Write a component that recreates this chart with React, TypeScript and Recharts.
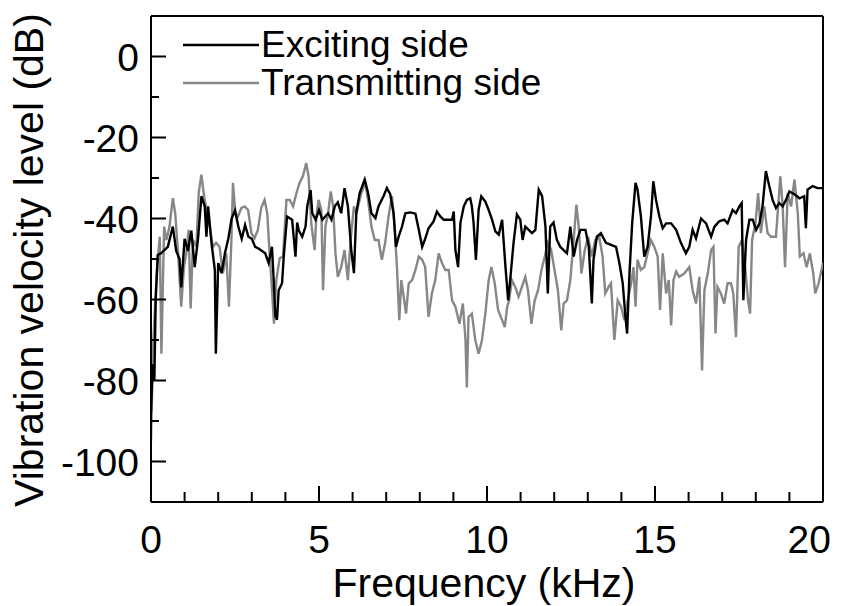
import { LineChart, Line, XAxis, YAxis, ReferenceLine } from "recharts"

// frequency (kHz), level (dB)
const excitingFreq = [
  0, 0.05, 0.1, 0.14, 0.2, 0.3, 0.5, 0.65, 0.75, 0.85, 0.9, 1.0, 1.1, 1.2, 1.3, 1.4, 1.5, 1.6, 1.65, 1.7,
  1.8, 1.9, 1.93, 2.0, 2.1, 2.2, 2.3, 2.4, 2.5, 2.6, 2.7, 2.8, 2.9, 3.0, 3.1, 3.2, 3.4, 3.5, 3.6, 3.65,
  3.7, 3.75, 3.8, 3.9, 3.95, 4.05, 4.2, 4.3, 4.35, 4.4, 4.5, 4.6, 4.65, 4.75, 4.8, 4.9, 5.0, 5.1, 5.27, 5.37,
  5.47, 5.56, 5.66, 5.76, 5.86, 5.96, 6.04, 6.11, 6.21, 6.36, 6.46, 6.56, 6.68, 6.77, 6.92, 7.02, 7.12, 7.22, 7.29, 7.37,
  7.47, 7.57, 7.72, 7.87, 7.97, 8.07, 8.16, 8.26, 8.41, 8.51, 8.61, 8.71, 8.86, 8.96, 9.01, 9.06, 9.14, 9.21, 9.31, 9.4,
  9.5, 9.55, 9.6, 9.67, 9.75, 9.83, 9.95, 10.05, 10.15, 10.25, 10.35, 10.45, 10.55, 10.63, 10.69, 10.79, 10.89, 10.99, 11.06, 11.14,
  11.24, 11.34, 11.44, 11.54, 11.64, 11.74, 11.81, 11.88, 11.98, 12.08, 12.18, 12.28, 12.38, 12.48, 12.58, 12.68, 12.78, 12.93, 13.03, 13.12,
  13.17, 13.27, 13.39, 13.54, 13.69, 13.84, 13.94, 14.04, 14.12, 14.17, 14.24, 14.32, 14.42, 14.48, 14.58, 14.68, 14.78, 14.88, 14.95, 15.03,
  15.13, 15.23, 15.33, 15.48, 15.63, 15.77, 15.92, 16.02, 16.12, 16.22, 16.37, 16.52, 16.67, 16.77, 16.91, 17.06, 17.16, 17.31, 17.41, 17.51,
  17.58, 17.63, 17.71, 17.81, 17.91, 18.01, 18.11, 18.2, 18.3, 18.4, 18.5, 18.6, 18.7, 18.8, 18.9, 19.0, 19.15, 19.3, 19.44, 19.49,
  19.54, 19.69, 19.84, 20,
]
const excitingLevel = [
  -88, -76, -80, -60, -49, -48.6, -47, -42, -48, -50, -57, -45, -48, -43, -52, -45, -34.5, -37, -44.5, -37,
  -46, -52.7, -73.4, -51, -53.5, -48.6, -45, -40, -38, -42, -45, -41.6, -44.5, -45, -47, -47.4, -48.6, -51, -47, -55,
  -64, -65, -57.7, -56, -49.4, -39.5, -40.3, -49.4, -41, -43, -44.5, -42, -37, -33, -38.7, -40.3, -37.9, -40.3, -38.7, -40.3,
  -37, -36, -38.7, -32.5, -37, -47.8, -53.5, -38.7, -33.7, -30.4, -33.7, -38.7, -39.9, -37, -34.5, -32.5, -34, -38.7, -47, -44.5,
  -42, -38.7, -38.5, -38.8, -42.8, -47, -45, -42.4, -40.7, -38.3, -39.5, -40.3, -40.3, -40.3, -38.3, -47.8, -52, -41, -37, -35.4,
  -35, -37, -41, -50.2, -37.9, -34.5, -35.8, -37.9, -40.3, -43.2, -44, -40.3, -52, -60.2, -55.2, -46, -39, -40.3, -45.3, -42,
  -42.8, -43.6, -42.8, -32.9, -34.5, -42, -58.5, -42, -41, -45.3, -47, -47.8, -48.6, -42, -49.4, -45.3, -42.8, -42.8, -47, -61,
  -50.2, -44.5, -43.6, -46, -46.5, -47, -51, -56, -64.3, -68.4, -53.6, -41.2, -31.2, -32.9, -39.5, -49.4, -47, -39.5, -30.8, -35.4,
  -39.5, -42.4, -41.2, -41.2, -42.8, -46, -48.6, -47, -42.8, -44.9, -40, -41.2, -44.5, -42, -40.7, -40.3, -41.2, -37.9, -38.7, -37,
  -36.2, -60.2, -45.3, -40.3, -40.3, -42.8, -41.2, -37, -28.3, -32, -35.4, -37.4, -36.2, -37, -35.4, -33.3, -34, -35, -34.5, -42.4,
  -32.9, -32, -32.5, -32.5,
]

const transmittingFreq = [
  0, 0.06, 0.16, 0.21, 0.26, 0.31, 0.39, 0.46, 0.55, 0.65, 0.72, 0.8, 0.9, 0.98, 1.05, 1.12, 1.18, 1.25, 1.35, 1.42,
  1.5, 1.58, 1.65, 1.75, 1.84, 1.94, 2.04, 2.14, 2.24, 2.32, 2.39, 2.44, 2.51, 2.59, 2.69, 2.79, 2.89, 2.99, 3.08, 3.18,
  3.28, 3.38, 3.46, 3.53, 3.6, 3.66, 3.73, 3.83, 3.93, 4.03, 4.13, 4.23, 4.33, 4.42, 4.52, 4.62, 4.69, 4.77, 4.87, 4.92,
  4.99, 5.07, 5.12, 5.19, 5.27, 5.35, 5.42, 5.49, 5.56, 5.66, 5.76, 5.86, 5.94, 6.04, 6.11, 6.26, 6.38, 6.46, 6.56, 6.66,
  6.77, 6.87, 6.97, 7.07, 7.17, 7.25, 7.32, 7.39, 7.45, 7.52, 7.59, 7.67, 7.77, 7.87, 7.97, 8.07, 8.16, 8.26, 8.36, 8.46,
  8.56, 8.66, 8.76, 8.86, 8.96, 9.06, 9.18, 9.28, 9.36, 9.4, 9.45, 9.55, 9.65, 9.75, 9.85, 9.95, 10.05, 10.13, 10.23, 10.33,
  10.45, 10.53, 10.6, 10.66, 10.74, 10.84, 10.94, 11.04, 11.14, 11.22, 11.32, 11.42, 11.52, 11.62, 11.72, 11.81, 11.91, 12.01, 12.11, 12.21,
  12.28, 12.38, 12.48, 12.58, 12.66, 12.73, 12.81, 12.91, 13.01, 13.12, 13.22, 13.34, 13.44, 13.52, 13.62, 13.69, 13.79, 13.89, 13.99, 14.09,
  14.19, 14.29, 14.36, 14.42, 14.48, 14.58, 14.68, 14.78, 14.88, 14.98, 15.08, 15.15, 15.23, 15.33, 15.41, 15.48, 15.55, 15.63, 15.72, 15.87,
  16.02, 16.12, 16.22, 16.32, 16.4, 16.47, 16.57, 16.67, 16.74, 16.8, 16.86, 16.96, 17.06, 17.16, 17.26, 17.33, 17.41, 17.49, 17.59, 17.69,
  17.77, 17.83, 17.89, 17.99, 18.07, 18.15, 18.25, 18.35, 18.45, 18.6, 18.65, 18.73, 18.8, 18.87, 18.95, 19.05, 19.15, 19.25, 19.31, 19.42,
  19.51, 19.61, 19.71, 19.77, 19.87, 20,
]
const transmittingLevel = [
  -95, -71.7, -55, -49.4, -44.5, -73.4, -42, -45.3, -42, -35, -38.7, -47.8, -61.8, -52, -48.6, -42.8, -62.2, -45.3, -47, -33.7,
  -29.2, -34.5, -37.9, -42, -47, -46, -47, -53.5, -48.6, -61.8, -46, -31.2, -38.7, -39.5, -37.4, -37, -37.9, -43.6, -44.9, -42.8,
  -37.4, -35.4, -38.7, -48.6, -57.7, -66, -55.2, -49.8, -49.4, -35.4, -35.4, -37, -33.7, -31.2, -29.6, -26.3, -29.6, -41.2, -47.8, -39.5,
  -35.4, -37.9, -57.7, -42, -38.7, -33.3, -37, -48.6, -54.4, -52, -47.8, -55.2, -45.3, -37, -38.7, -33.7, -31.2, -35.4, -42, -45.3,
  -45.3, -50.2, -46, -39.5, -34.5, -42, -52, -65.1, -55.2, -59.3, -63.5, -56, -55.2, -52.7, -49.4, -50.2, -52, -64.3, -58.5, -55.2,
  -48.6, -51, -52.7, -52.7, -60.2, -61.8, -66, -61, -70, -81.7, -64.3, -63.5, -70, -73.4, -70, -63.5, -55.2, -52, -56, -62.6,
  -65.1, -66.8, -61.8, -60.2, -55.2, -56.9, -59.3, -56.9, -54.4, -57.7, -66, -60.2, -57.7, -52.7, -49.4, -46, -47.8, -52.7, -57.7, -67.6,
  -61, -60.2, -55.2, -45.3, -36.6, -42, -53.6, -47.8, -44.5, -49.4, -45.3, -44.5, -49.4, -58.5, -56.9, -56, -70, -60.2, -61.8, -65.1,
  -60.2, -56, -52, -61.8, -50.2, -52.7, -52, -48.6, -45.3, -47, -49.4, -62.6, -48.6, -58.5, -55.2, -66.4, -55.2, -53.1, -54.4, -53.6,
  -52, -57.7, -61, -54.4, -77.5, -57.7, -53.6, -47.8, -47, -68.4, -56.9, -58.5, -61, -56, -56, -58.5, -69.3, -47, -45.3, -52.7,
  -60.2, -63.5, -45.3, -41.2, -33.7, -43.6, -37, -43.6, -44.5, -44.5, -38.7, -29.6, -37, -52, -33.7, -37, -30.4, -38.7, -49.4, -48.6,
  -52, -48.6, -53.6, -58.5, -56, -51,
]

const xTicks = [0, 1, 2, 3, 4, 5, 6, 7, 8, 9, 10, 11, 12, 13, 14, 15, 16, 17, 18, 19, 20]
const yTicks = [-100, -90, -80, -70, -60, -50, -40, -30, -20, -10, 0]

const exciting = excitingFreq.map((f, i) => ({ f, v: excitingLevel[i] }))
const transmitting = transmittingFreq.map((f, i) => ({ f, v: transmittingLevel[i] }))

const FONT = "'Liberation Sans', Arial, sans-serif"
const GRAY = "#878787"

const XTick = ({ x, y, payload }: any) => {
  const major = payload.value % 5 === 0
  // last label sits pulled in from the frame edge in the original
  const last = payload.value === 20
  return (
    <g>
      <line x1={x} x2={x} y1={y} y2={y - (major ? 16 : 10)} stroke="#000" strokeWidth={2} />
      {major && (
        <text
          x={last ? x + 8 : x}
          y={y + 51}
          textAnchor={last ? "end" : "middle"}
          fontSize={39}
          fontFamily={FONT}
          fill="#000"
        >
          {payload.value}
        </text>
      )}
    </g>
  )
}

const YTick = ({ x, y, payload }: any) => {
  const major = payload.value % 20 === 0
  return (
    <g>
      <line x1={x} x2={x + (major ? 15 : 8)} y1={y} y2={y} stroke="#000" strokeWidth={2} />
      {major && (
        <text x={x - 12} y={y + 14} textAnchor="end" fontSize={39} fontFamily={FONT} fill="#000">
          {payload.value}
        </text>
      )}
    </g>
  )
}

export default function App() {
  return (
    <div style={{ position: "absolute", left: 0, top: 0, width: 852, height: 606, background: "#fff" }}>
      <LineChart width={852} height={606} margin={{ top: 16, right: 29, bottom: 0, left: 0 }}>
        <XAxis
          type="number"
          dataKey="f"
          domain={[0, 20]}
          ticks={xTicks}
          interval={0}
          height={104}
          tickSize={0}
          tickMargin={0}
          tick={<XTick />}
          axisLine={{ stroke: "#000", strokeWidth: 2 }}
          allowDataOverflow
        />
        <YAxis
          type="number"
          domain={[-110, 10]}
          ticks={yTicks}
          interval={0}
          width={151}
          tickSize={0}
          tickMargin={0}
          tick={<YTick />}
          axisLine={{ stroke: "#000", strokeWidth: 2 }}
          allowDataOverflow
        />
        <ReferenceLine y={10} stroke="#000" strokeWidth={2} />
        <ReferenceLine x={20} stroke="#000" strokeWidth={2} />
        <Line data={transmitting} dataKey="v" stroke={GRAY} strokeWidth={2.4} dot={false} isAnimationActive={false} />
        <Line data={exciting} dataKey="v" stroke="#000" strokeWidth={2.4} dot={false} isAnimationActive={false} />
      </LineChart>
      <svg width={852} height={606} style={{ position: "absolute", left: 0, top: 0, pointerEvents: "none" }}>
        <text x={43} y={260} transform="rotate(-90, 43, 260)" textAnchor="middle" fontSize={41} fontFamily={FONT} fill="#000">
          Vibration velocity level (dB)
        </text>
        <text x={484} y={597} textAnchor="middle" fontSize={41} fontFamily={FONT} fill="#000">
          Frequency (kHz)
        </text>
        <line x1={183} x2={259} y1={45} y2={45} stroke="#000" strokeWidth={2.4} />
        <text x={261} y={57} fontSize={37} fontFamily={FONT} fill="#000">
          Exciting side
        </text>
        <line x1={183} x2={259} y1={83} y2={83} stroke={GRAY} strokeWidth={2.4} />
        <text x={261} y={95} fontSize={37} fontFamily={FONT} fill="#000">
          Transmitting side
        </text>
      </svg>
    </div>
  )
}
